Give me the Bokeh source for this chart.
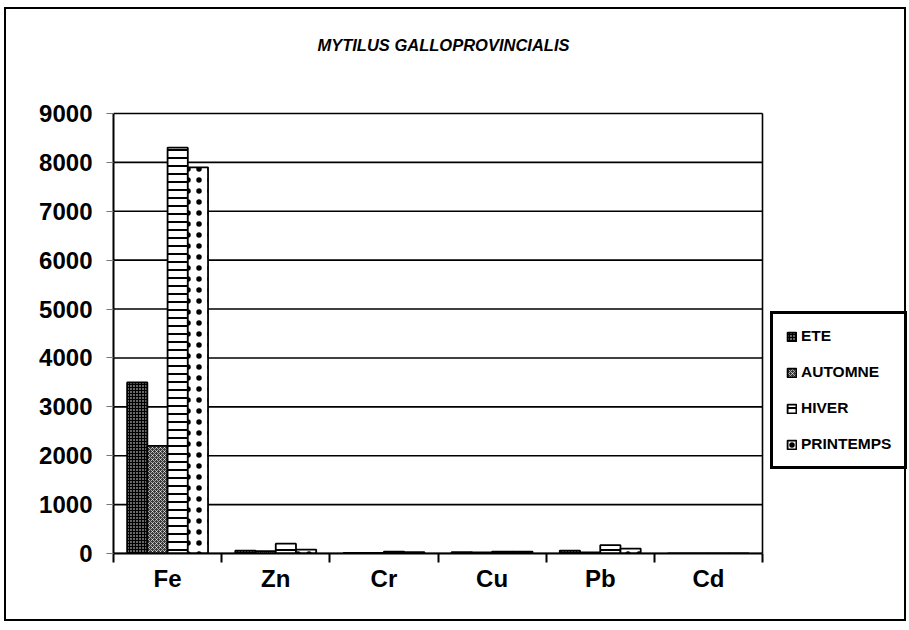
from bokeh.plotting import figure
from bokeh.models import FixedTicker, Legend, LegendItem, ColumnDataSource, Label
from bokeh.embed import file_html
from bokeh.resources import INLINE

# ---- data ----
elements = ["Fe", "Zn", "Cr", "Cu", "Pb", "Cd"]
seasons = ["ETE", "AUTOMNE", "HIVER", "PRINTEMPS"]
ete = [3500, 60, 10, 30, 60, 2]
automne = [2200, 50, 10, 20, 20, 2]
hiver = [8300, 200, 40, 40, 170, 2]
printemps = [7900, 80, 30, 40, 100, 2]
y_ticks = [0, 1000, 2000, 3000, 4000, 5000, 6000, 7000, 8000, 9000]
title_text = "MYTILUS GALLOPROVINCIALIS"

FONT = "Liberation Sans"
n = len(elements)
ymax = y_ticks[-1]

# frame covers the whole chart area; the visible plot box is drawn from the data extents
x_end = n * (908 - 113) / (762 - 113)
y_end = ymax * (553 - 12) / (553 - 113)

p = figure(width=902, height=614, output_backend="svg", toolbar_location=None,
           x_range=(0, x_end), y_range=(0, y_end),
           min_border_left=107, min_border_right=0, min_border_top=3,
           min_border_bottom=70)
p.margin = (7, 0, 0, 4)
p.styles = {"border": "2px solid black"}
p.background_fill_color = "white"
p.border_fill_color = "white"
p.outline_line_color = None
p.title.visible = False

# axes
p.yaxis.ticker = FixedTicker(ticks=y_ticks)
p.yaxis.bounds = (0, ymax)
p.yaxis.major_label_text_font = FONT
p.yaxis.major_label_text_font_style = "bold"
p.yaxis.major_label_text_font_size = "24px"
p.yaxis.major_label_text_color = "black"
p.yaxis.axis_line_width = 2
p.yaxis.axis_line_color = "black"
p.yaxis.major_tick_in = 0
p.yaxis.major_tick_out = 7
p.yaxis.major_tick_line_color = "#777777"
p.yaxis.minor_tick_line_color = None
p.yaxis.major_label_standoff = 14

centers = [i + 0.5 for i in range(n)]
bounds = list(range(n + 1))
p.xaxis.ticker = FixedTicker(ticks=centers, minor_ticks=bounds)
p.xaxis.bounds = (0, n)
p.xaxis.major_label_overrides = {c: e for c, e in zip(centers, elements)}
p.xaxis.major_tick_in = 0
p.xaxis.major_tick_out = 0
p.xaxis.minor_tick_in = 0
p.xaxis.minor_tick_out = 9
p.xaxis.minor_tick_line_color = "black"
p.xaxis.minor_tick_line_width = 2
p.xaxis.axis_line_width = 2
p.xaxis.axis_line_color = "black"
p.xaxis.major_label_text_font = FONT
p.xaxis.major_label_text_font_style = "bold"
p.xaxis.major_label_text_font_size = "24px"
p.xaxis.major_label_text_color = "black"
p.xaxis.major_label_standoff = 2

p.xgrid.visible = False
p.ygrid.visible = False

# gridlines and right side of the plot box
grid_src = ColumnDataSource(dict(x0=[0] * len(y_ticks), x1=[n] * len(y_ticks), y=y_ticks))
p.segment(x0="x0", x1="x1", y0="y", y1="y", source=grid_src, line_color="black", line_width=1.6)
p.segment(x0=[n], x1=[n], y0=[0], y1=[ymax], line_color="black", line_width=1.6)

# bars
bw = 0.187
offsets = [-1.5 * bw, -0.5 * bw, 0.5 * bw, 1.5 * bw]
series = [ete, automne, hiver, printemps]
styles = [
    dict(fill_color="black", hatch_pattern="dot", hatch_color="white", hatch_scale=3, hatch_weight=1),
    dict(fill_color="#3a3a3a", hatch_pattern="diagonal_cross", hatch_color="white", hatch_scale=4, hatch_weight=0.6),
    dict(fill_color="white", hatch_pattern="horizontal_line", hatch_color="black", hatch_scale=8, hatch_weight=2),
    dict(fill_color="white", hatch_pattern="dot", hatch_color="black", hatch_scale=11, hatch_weight=1.6),
]
items = []
for name, vals, off, st in zip(seasons, series, offsets, styles):
    src = ColumnDataSource(dict(x=[c + off for c in centers], top=vals))
    r = p.vbar(x="x", top="top", width=bw, bottom=0, source=src,
               line_color="black", line_width=1.8, **st)
    items.append(LegendItem(label=name, renderers=[r]))

legend = Legend(items=items, location=(657, 84), orientation="vertical")
legend.border_line_color = "black"
legend.border_line_width = 3
legend.border_line_alpha = 1
legend.background_fill_color = "white"
legend.background_fill_alpha = 1
legend.label_text_font = FONT
legend.label_text_font_style = "bold"
legend.label_text_font_size = "15.5px"
legend.label_text_color = "black"
legend.glyph_width = 11
legend.glyph_height = 11
legend.label_standoff = 4
legend.spacing = 18
legend.padding = 13
legend.margin = 0
legend.label_height = 16
p.add_layout(legend, "center")

title = Label(x=330, y=509, x_units="screen", y_units="screen", text=title_text,
              text_font=FONT, text_font_style="bold italic", text_font_size="16.5px",
              text_align="center", text_baseline="middle", text_color="black")
p.add_layout(title)

open("out.html", "w").write(file_html(p, INLINE))
